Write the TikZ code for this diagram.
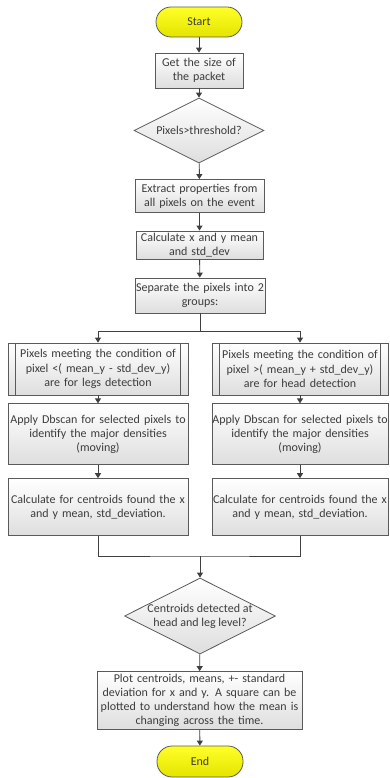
\documentclass[tikz,border=0pt]{standalone}
\usepackage{fontspec}
\setmainfont{Carlito}
\usetikzlibrary{shapes.geometric, arrows.meta, positioning}
\definecolor{flowText}{RGB}{60, 60, 60}
\definecolor{flowBorder}{RGB}{90, 90, 90}
\definecolor{flowTop}{RGB}{255, 255, 255}
\definecolor{flowBottom}{RGB}{222, 222, 222}
\definecolor{flowYellowTop}{RGB}{255, 255, 40}
\definecolor{flowYellowBottom}{RGB}{228, 228, 0}
\definecolor{flowLineCol}{RGB}{64, 64, 64}
\tikzset{
  FBase/.style      = {draw=flowBorder, line width=0.8pt, align=center,
                       inner xsep=-4pt, inner ysep=1pt,
                       font=\fontsize{12}{14.2}\selectfont, text=flowText,
                       top color=flowTop, bottom color=flowBottom},
  Terminal/.style   = {FBase, rectangle, rounded corners=15pt,
                       top color=flowYellowTop, bottom color=flowYellowBottom,
                       minimum width=86pt, minimum height=30pt},
  Process/.style    = {FBase, rectangle},
  Decision/.style   = {FBase, diamond, aspect=2, inner sep=-6pt},
  Subroutine/.style = {Process},
  FlowLine/.style   = {draw=flowLineCol, line width=0.9pt},
  FlowArrow/.style  = {FlowLine, -{Triangle[length=5pt,width=6pt]}},
}

\begin{document}
\begin{tikzpicture}[x=1pt, y=-1pt]
    \useasboundingbox (0,0) rectangle (389,778);
    % main column
    \node[Terminal] (start) at (199,22) {Start};
    \node[Process, text width=96pt, minimum height=35pt] (size) at (199,70.5) {Get the size of\\the packet};
    \node[Decision, minimum width=130pt, minimum height=65pt] (thresh) at (199,130.5) {Pixels>threshold?};
    \node[Process, text width=137pt, minimum height=33pt] (extract) at (199.5,196) {Extract properties from\\all pixels on the event};
    \node[Process, text width=135pt, minimum height=28pt] (meanxy) at (199.5,245) {Calculate x and y mean\\and std\_dev};
    \node[Process, text width=138pt, minimum height=35pt] (separate) at (200,295.5) {Separate the pixels into 2\\groups:};
    % two branches
    \node[Subroutine, text width=188pt, minimum height=52pt] (legs) at (98,369) {Pixels meeting the condition of\\pixel <( mean\_y - std\_dev\_y)\\are for legs detection};
    \node[Subroutine, text width=184pt, minimum height=52pt] (head) at (300,369) {Pixels meeting the condition of\\pixel >( mean\_y + std\_dev\_y)\\are for head detection};
    \node[Process, text width=188pt, minimum height=61pt, below=8pt of legs] (dbscanL) {Apply Dbscan for selected pixels to\\identify the major densities\\(moving)};
    \node[Process, text width=184pt, minimum height=61pt, below=8pt of head] (dbscanR) {Apply Dbscan for selected pixels to\\identify the major densities\\(moving)};
    \node[Process, text width=188pt, minimum height=57pt, below=13pt of dbscanL] (centL) {Calculate for centroids found the x\\and y mean, std\_deviation.};
    \node[Process, text width=184pt, minimum height=57pt, below=13pt of dbscanR] (centR) {Calculate for centroids found the x\\and y mean, std\_deviation.};
    % bottom column
    \node[Decision, minimum width=151pt, minimum height=76pt] (level) at (200,616) {Centroids detected at\\head and leg level?};
    \node[Process, text width=213pt, minimum height=58pt] (plot) at (199.5,700.5) {Plot centroids, means, +- standard\\deviation for x and y. A square can be\\plotted to understand how the mean is\\changing across the time.};
    \node[Terminal, minimum height=31pt] (end) at (200,761.5) {End};
    % side bars of the predefined steps
    \foreach \n in {legs, head} {
      \draw[flowBorder, line width=0.8pt] ([xshift=8pt]\n.north west) -- ([xshift=8pt]\n.south west);
      \draw[flowBorder, line width=0.8pt] ([xshift=-8pt]\n.north east) -- ([xshift=-8pt]\n.south east);
    }
    \coordinate (split) at (200,331);
    \coordinate (join) at (200,556);
    % connectors
    \draw[FlowArrow] (start) -- (size);
    \draw[FlowArrow] (size) -- (thresh);
    \draw[FlowArrow] (thresh) -- (extract);
    \draw[FlowArrow] (extract) -- (meanxy);
    \draw[FlowArrow] (meanxy) -- (separate);
    \draw[FlowLine]  (separate) -- (split);
    \draw[FlowArrow] (split) -| (legs.north);
    \draw[FlowArrow] (split) -| (head.north);
    \draw[FlowArrow] (legs) -- (dbscanL);
    \draw[FlowArrow] (head) -- (dbscanR);
    \draw[FlowArrow] (dbscanL) -- (centL);
    \draw[FlowArrow] (dbscanR) -- (centR);
    \draw[FlowLine]  (centL.south) |- (join) -| (centR.south);
    \draw[FlowArrow] (join) -- (level);
    \draw[FlowArrow] (level) -- (plot);
    \draw[FlowArrow] (plot) -- (end);
\end{tikzpicture}
\end{document}
